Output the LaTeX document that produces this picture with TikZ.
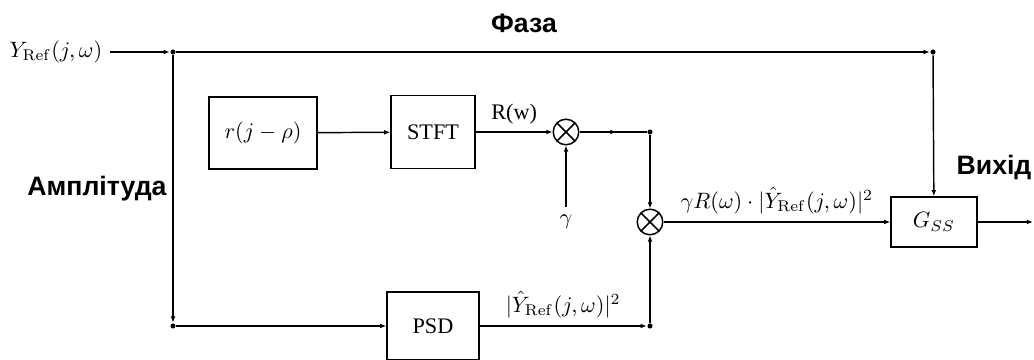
\documentclass[tikz,border=0pt]{standalone}
\usepackage{amsmath}
\usepackage[no-math]{fontspec}
\setmainfont{Liberation Serif}
\newfontfamily\sanslabel{Liberation Sans}
\usetikzlibrary{arrows.meta,decorations.markings}
\newcommand{\sigtag}[1]{{\sanslabel\bfseries\fontsize{12}{14}\selectfont #1}}

\begin{document}
\begin{tikzpicture}[
  x=0.45pt, y=-0.45pt,
  font=\fontsize{10}{12}\selectfont,
  line width=0.65pt,
  box/.style={draw, align=center, inner sep=2pt},
  mult/.style={circle, draw, minimum size=11.5pt, inner sep=0pt,
    path picture={\draw (path picture bounding box.north west) -- (path picture bounding box.south east)
      (path picture bounding box.north east) -- (path picture bounding box.south west);}},
  dot/.style={circle, fill, inner sep=0pt, minimum size=2.3pt},
  ar/.style={-{Latex[length=2.8pt, width=2.2pt]}},
  mid/.style={postaction={decorate}, decoration={markings,
    mark=at position 0.55 with {\arrow{Latex[length=2.8pt, width=2.2pt]}}}}
]
\useasboundingbox (0,0) rectangle (1034,360);
\node (yin) at (56,52) {$Y_{\mathrm{Ref}}(j,\omega)$};
\node[dot] (split) at (173,52) {};
\node[dot] (phase) at (933,52) {};
\node[dot] (amp) at (173,326) {};
\node[box, minimum width=48.6pt, minimum height=32.4pt] (win) at (263,133) {$r(j-\rho)$};
\node[box, minimum width=37.8pt, minimum height=32.8pt] (stft) at (433,132) {STFT};
\node[mult] (m1) at (566,132) {};
\node (gam) at (566,222) {$\gamma$};
\node[dot] (branch) at (650,132) {};
\node[mult] (m2) at (650,222) {};
\node[box, minimum width=41.4pt, minimum height=30.6pt] (psd) at (433,326) {PSD};
\node[dot] (join) at (650,326) {};
\node[box, minimum width=38.7pt, minimum height=22.5pt] (gss) at (934,222) {$G_{SS}$};
\coordinate (out) at (1033,222);
\node at (524,23) {\sigtag{Фаза}};
\node at (97,189) {\sigtag{Амплітуда}};
\node at (994,168) {\sigtag{Вихід}};
\draw[ar] (yin) -- (split);
\draw[ar] (split) -- (phase);
\draw[ar] (phase) -- (gss);
\draw[ar] (split) -- (amp);
\draw[ar] (amp) -- (psd);
\draw[ar] (win) -- (stft);
\draw[ar] (stft) -- node[above] {R(w)} (m1);
\draw[ar] (gam) -- (m1);
\draw[mid] (m1) -- (branch);
\draw[ar] (branch) -- (m2);
\draw[ar] (psd) -- node[above] {$|\hat{Y}_{\mathrm{Ref}}(j,\omega)|^2$} (join);
\draw[ar] (join) -- (m2);
\draw[ar] (m2) -- node[above] {$\gamma R(\omega)\cdot|\hat{Y}_{\mathrm{Ref}}(j,\omega)|^2$} (gss);
\draw[ar] (gss) -- (out);
\end{tikzpicture}
\end{document}
